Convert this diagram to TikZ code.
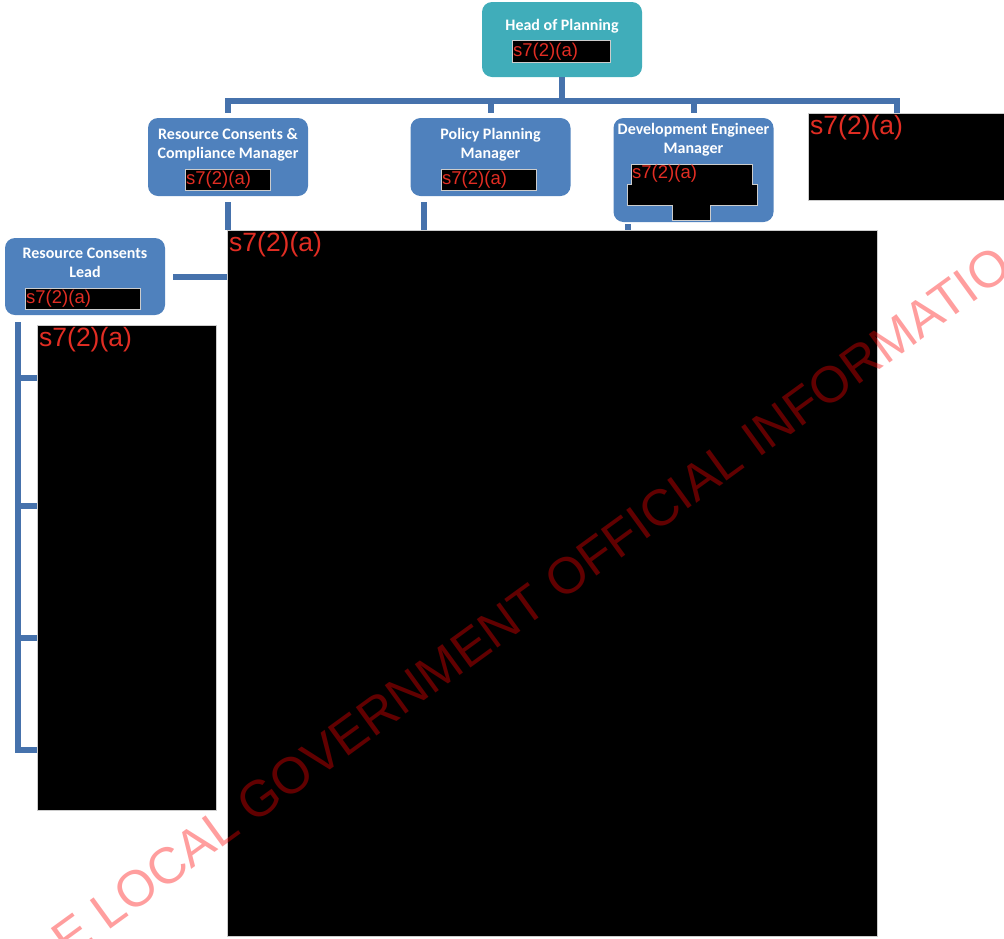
\documentclass[tikz,border=0pt]{standalone}
\usepackage{fontspec}
\setmainfont{Carlito}
\newfontfamily\redactfont{Liberation Sans}
\usetikzlibrary{positioning, calc}
\definecolor{headteal}{RGB}{64,173,186}
\definecolor{mgrblue}{RGB}{79,129,189}
\definecolor{linkblue}{RGB}{70,114,172}
\definecolor{redacttext}{RGB}{225,45,35}
\tikzset{
  role/.style={draw=none, fill=mgrblue, rounded corners=10pt, minimum width=160pt, minimum height=78pt, inner sep=0},
  rolename/.style={text=white, font=\bfseries\fontsize{16}{19}\selectfont, align=center, inner sep=0},
  redact/.style={fill=black, draw=white!80!black, line width=0.8pt, inner sep=0, anchor=north west},
  redactfill/.style={fill=black, draw=white!80!black, line width=0.8pt},
  tag/.style={text=redacttext, font=\redactfont\fontsize{18.5}{20}\selectfont, inner sep=0, anchor=west},
  bigtag/.style={text=redacttext, font=\redactfont\fontsize{26.5}{28}\selectfont, inner sep=0, anchor=north west},
  link/.style={draw=linkblue, line width=6pt},
  wmark/.style={text=red, text opacity=0.38, font=\redactfont\fontsize{51}{51}\selectfont, inner sep=0}
}
\begin{document}
\begin{tikzpicture}[x=1pt, y=-1pt]
  \useasboundingbox (0,0) rectangle (1004,938);
  \clip (0,0) rectangle (1004,938);

  % head of the unit
  \node[role, fill=headteal, minimum height=75pt] (head) at (562,39.5) {};
  \node[rolename] (headT) at (562,26) {Head of Planning};
  \node[redact, minimum width=98pt, minimum height=22pt] (headR) at (512,40) {};
  \node[tag, right=1pt of headR.west] (headS) {s7(2)(a)};

  % managers
  \node[role] (rcc) at (228,157) {};
  \node[rolename] (rccT) at (228,144.5) {Resource Consents \&\\Compliance Manager};
  \node[redact, minimum width=85pt, minimum height=21pt] (rccR) at (185,169) {};
  \node[tag, right=1pt of rccR.west] (rccS) {s7(2)(a)};

  \node[role] (ppm) at (490.5,157) {};
  \node[rolename] (ppmT) at (490.5,144.5) {Policy Planning\\Manager};
  \node[redact, minimum width=95pt, minimum height=21pt] (ppmR) at (441,169) {};
  \node[tag, right=1pt of ppmR.west] (ppmS) {s7(2)(a)};

  \node[role, minimum height=104pt] (dem) at (693.5,170) {};
  \node[rolename] (demT) at (693.5,140) {Development Engineer\\Manager};
  \filldraw[redactfill] (631,164) -- (752,164) -- (752,184) -- (757,184) -- (757,205) -- (710,205)
    -- (710,220) -- (672,220) -- (672,205) -- (627,205) -- (627,184) -- (631,184) -- cycle;
  \node[tag] (demS) at (632,174) {s7(2)(a)};

  \node[redact, minimum width=196pt, minimum height=87pt] (side) at (808,113) {};
  \node[bigtag] (sideS) at (810,115) {s7(2)(a)};

  % teams
  \node[redact, minimum width=650pt, minimum height=706pt] (staff) at (227,230) {};
  \node[bigtag] (staffS) at (229,232) {s7(2)(a)};

  \node[role, minimum height=77pt] (rcl) at (85,276.5) {};
  \node[rolename] (rclT) at (85,263) {Resource Consents\\Lead};
  \node[redact, minimum width=115pt, minimum height=21pt] (rclR) at (25,288) {};
  \node[tag, right=1pt of rclR.west] (rclS) {s7(2)(a)};

  \node[redact, minimum width=179pt, minimum height=485pt] (team) at (37,325) {};
  \node[bigtag] (teamS) at (39,327) {s7(2)(a)};

  % reporting lines
  \coordinate (bar) at (0,101);
  \coordinate (sideIn) at (897,113);
  \coordinate (ppmOut) at (424,202);
  \coordinate (demOut) at (628,224);
  \coordinate (rail) at (18,322);
  \draw[link] ([yshift=5pt]rcc.north) -- (rcc.north |- bar) -- (sideIn |- bar) -- (sideIn);
  \draw[link] (head.south) -- (head.south |- bar);
  \draw[link] (ppm.north |- bar) -- ([yshift=5pt]ppm.north);
  \draw[link] (dem.north |- bar) -- ([yshift=5pt]dem.north);
  \draw[link] ([yshift=-6pt]rcc.south) -- (rcc.south |- staff.north);
  \draw[link] (ppmOut) -- (ppmOut |- staff.north);
  \draw[link] (demOut) -- (demOut |- staff.north);
  \draw[link] ([xshift=8pt]rcl.east) -- (rcl.east -| staff.west);
  \draw[link] (rail) -- (rail |- 0,750) -- (team.west |- 0,750);
  \foreach \y in {378,506,638}
    \draw[link] (rail |- 0,\y) -- (team.west |- 0,\y);

  % watermark
  \node[wmark, rotate=36, anchor=base west] (wm) at (68,960) {E LOCAL GOVERNMENT OFFICIAL INFORMATIO};
\end{tikzpicture}
\end{document}
